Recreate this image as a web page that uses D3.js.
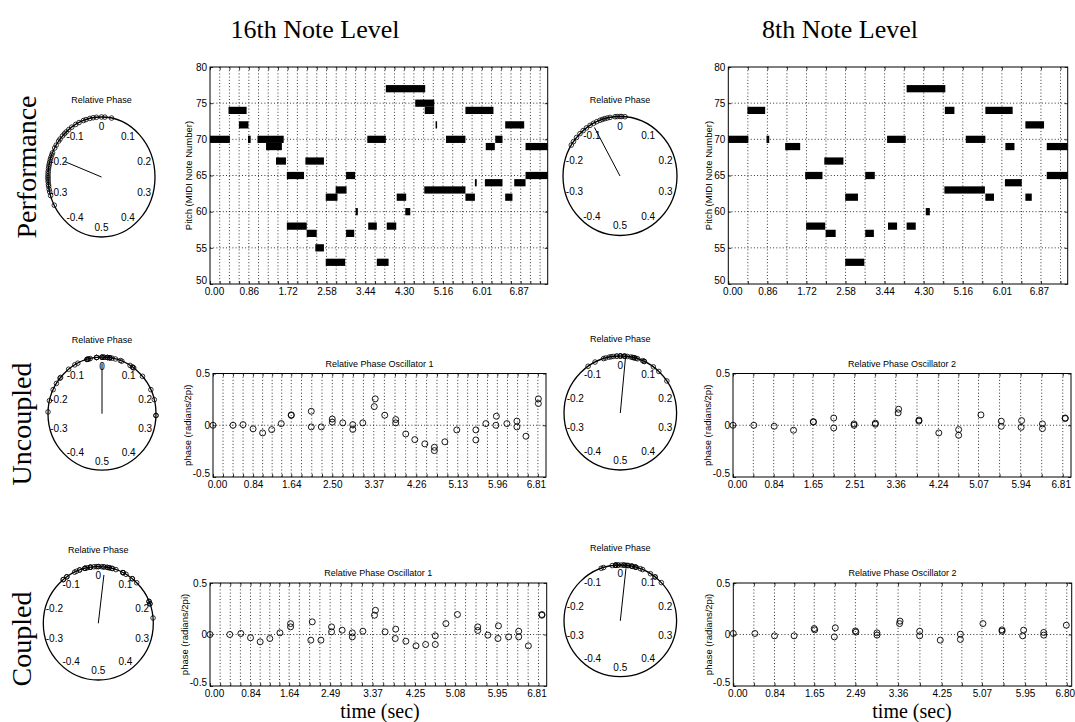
<!DOCTYPE html>
<html>
<head>
<meta charset="utf-8">
<script src="https://cdn.jsdelivr.net/npm/d3@7"></script>
<style>
body { margin: 0; background: #fff; }
</style>
</head>
<body>
<script>
// piano roll notes: [pitch, start (s), end (s)]
var notes16 = [
  [70,0,0.44],[74,0.41,0.81],[72,0.64,0.85],[70,0.84,0.90],[70,1.05,1.63],[69,1.24,1.59],
  [67,1.46,1.68],[65,1.70,2.08],[58,1.70,2.14],[57,2.14,2.36],[67,2.11,2.52],[55,2.33,2.52],
  [62,2.56,2.82],[63,2.78,3.02],[53,2.56,2.99],[65,3.01,3.21],[57,3.01,3.19],[60,3.22,3.27],
  [70,3.48,3.89],[58,3.50,3.69],[53,3.69,3.95],[58,3.91,4.12],[77,3.89,4.76],[62,4.13,4.34],
  [60,4.32,4.43],[75,4.54,4.96],[74,4.75,4.96],[72,4.99,5.02],[63,4.74,5.65],[70,5.22,5.65],
  [62,5.65,5.86],[74,5.65,6.27],[64,5.86,5.90],[64,6.08,6.47],[69,6.10,6.30],[70,6.31,6.47],
  [62,6.53,6.69],[72,6.53,6.95],[64,6.73,6.98],[69,6.98,7.47],[65,6.98,7.47]
];
var notes8 = [
  [70,0,0.44],[74,0.42,0.81],[70,0.84,0.90],[69,1.25,1.58],[65,1.69,2.07],[58,1.71,2.13],
  [67,2.11,2.53],[57,2.14,2.36],[62,2.57,2.85],[53,2.57,2.99],[65,3.01,3.22],[57,3.01,3.20],
  [70,3.49,3.90],[58,3.51,3.71],[58,3.92,4.12],[77,3.92,4.77],[60,4.34,4.43],[74,4.76,4.97],
  [63,4.75,5.64],[70,5.22,5.65],[62,5.65,5.84],[74,5.65,6.25],[69,6.09,6.29],[64,6.08,6.45],
  [62,6.53,6.67],[72,6.53,6.94],[69,7.00,7.46],[65,7.00,7.46]
];
var beatDur = 0.859;
var pianoTickLabels = ["0.00","0.86","1.72","2.58","3.44","4.30","5.16","6.01","6.87"];
var pitchTicks = [50,55,60,65,70,75,80];

// relative phase per oscillator: [time (s), phase (radians/2pi)]
var uncOsc1 = [
  [0,0],[0.42,0],[0.63,0.006],[0.84,-0.035],[1.04,-0.074],[1.23,-0.042],[1.43,0.016],
  [1.64,0.10],[1.64,0.095],[2.06,0.135],[2.06,-0.016],[2.27,-0.016],[2.50,0.06],[2.50,0.03],
  [2.72,0.023],[2.93,0.006],[2.93,-0.04],[3.14,0.023],[3.40,0.255],[3.38,0.18],[3.60,0.097],
  [3.83,0.055],[3.83,0.023],[4.04,-0.084],[4.23,-0.139],[4.44,-0.18],[4.64,-0.213],[4.64,-0.245],
  [4.86,-0.16],[5.11,-0.045],[5.51,-0.045],[5.51,-0.142],[5.72,0.016],[5.93,0],[5.94,0.087],
  [6.16,0.016],[6.37,0.04],[6.37,-0.016],[6.56,-0.106],[6.82,0.255],[6.82,0.21]
];
var uncOsc2 = [
  [0,0],[0.43,0],[0.85,-0.01],[1.25,-0.048],[1.66,0.035],[1.66,0.03],[2.08,0.07],[2.08,-0.026],
  [2.50,0.013],[2.50,0],[2.94,0.02],[2.94,0.01],[3.42,0.155],[3.41,0.12],[3.84,0.05],[3.84,0.04],
  [4.25,-0.074],[4.66,-0.042],[4.66,-0.097],[5.12,0.10],[5.54,0.039],[5.54,-0.01],[5.96,0.045],
  [5.95,-0.02],[6.39,0.013],[6.39,-0.032],[6.86,0.07],[6.86,0.065]
];
var cplOsc1 = [
  [0,0],[0.41,0],[0.64,0.01],[0.84,-0.032],[1.04,-0.071],[1.24,-0.039],[1.45,0.016],
  [1.67,0.106],[1.67,0.074],[2.09,-0.055],[2.12,0.123],[2.30,-0.055],[2.52,0.074],[2.52,0.026],
  [2.74,0.042],[2.95,0.016],[2.95,-0.023],[3.17,0.032],[3.43,0.235],[3.41,0.187],[3.63,0.026],
  [3.85,0.052],[3.84,-0.039],[4.06,-0.065],[4.27,-0.11],[4.47,-0.097],[4.67,-0.013],[4.67,-0.097],
  [4.89,0.106],[5.13,0.194],[5.55,0.074],[5.55,0.039],[5.76,-0.006],[5.98,0.084],[5.97,-0.039],
  [6.19,-0.023],[6.40,0.032],[6.40,-0.023],[6.60,-0.11],[6.88,0.187],[6.88,0.194]
];
var cplOsc2 = [
  [0,0.01],[0.44,0.01],[0.84,-0.013],[1.24,-0.013],[1.65,0.058],[1.66,0.045],[2.06,-0.023],
  [2.08,0.065],[2.49,0.035],[2.50,0.023],[2.93,0.016],[2.93,-0.006],[3.40,0.13],[3.39,0.106],
  [3.80,0.032],[3.80,-0.013],[4.22,-0.055],[4.63,0.003],[4.63,-0.048],[5.09,0.106],[5.48,0.045],
  [5.48,0.032],[5.92,0.042],[5.90,-0.013],[6.33,0.02],[6.33,-0.006],[6.79,0.09]
];
var uncTicks1 = [0.00,0.84,1.64,2.50,3.37,4.26,5.13,5.96,6.81];
var uncTicks2 = [0.00,0.84,1.65,2.51,3.36,4.24,5.07,5.94,6.81];
var cplTicks1 = [0.00,0.84,1.64,2.49,3.37,4.25,5.08,5.95,6.81];
var cplTicks2 = [0.00,0.84,1.65,2.49,3.36,4.25,5.07,5.95,6.80];

// performance relative phase (radians/2pi)
var perfPhase16 = [0.03,0.01,0.0,-0.015,-0.025,-0.035,-0.047,-0.055,-0.069,-0.08,-0.094,-0.105,
  -0.115,-0.122,-0.13,-0.141,-0.148,-0.161,-0.17,-0.184,-0.19,-0.197,-0.203,-0.21,-0.216,-0.222,
  -0.228,-0.235,-0.241,-0.247,-0.252,-0.257,-0.263,-0.27,-0.275,-0.283,-0.29,-0.30,-0.328];
var perfPhase8 = [0.014,0.005,0.0,-0.008,-0.014,-0.028,-0.036,-0.043,-0.05,-0.057,-0.067,-0.077,
  -0.088,-0.1,-0.112,-0.124,-0.138,-0.152,-0.163];
// mean vector of each polar plot: [phase, length]
var meanPerf16 = [-0.193, 0.73], meanPerf8 = [-0.08, 0.93];
var meanUnc16 = [0.0, 0.89], meanUnc8 = [0.015, 0.97];
var meanCpl16 = [0.019, 0.86], meanCpl8 = [0.017, 0.945];
var polarLabels = [0,0.1,0.2,0.3,0.4,0.5,-0.4,-0.3,-0.2,-0.1];

var SANS = "Liberation Sans, Arial, Helvetica, sans-serif";
var SERIF = "Liberation Serif, Times New Roman, serif";

var svg = d3.select("body").append("svg")
  .attr("width", 1075)
  .attr("height", 722)
  .style("font-family", SANS);

var dotted = "1,2.2";

function styleAxis(g) {
  g.select(".domain").remove();
  g.selectAll("line").attr("stroke", "#000").attr("stroke-width", 0.8);
  g.attr("font-family", null).attr("font-size", null);
  g.selectAll("text").style("font-family", SANS)
    .style("font-size", "10px").attr("fill", "#000");
}

// nudge the corner labels apart the way the original figure does
function nudgeX(g) {
  var t = g.selectAll("text").filter(function() { return this.textContent !== ""; });
  var n = t.size();
  t.attr("dx", function(d, i) { return i === 0 ? 4 : (i === n - 1 ? -2 : 0); });
}
function nudgeY(g) {
  g.selectAll("text").attr("dy", function(d, i) { return i === 0 ? "-0.05em" : "0.32em"; });
}

function frame(box) {
  svg.append("rect")
    .attr("x", box.x0).attr("y", box.y0)
    .attr("width", box.x1 - box.x0).attr("height", box.y1 - box.y0)
    .attr("fill", "none").attr("stroke", "#000").attr("stroke-width", 1);
}

function ylabel(txt, cx, cy) {
  svg.append("text")
    .attr("transform", "translate(" + cx + "," + cy + ") rotate(-90)")
    .attr("text-anchor", "middle").attr("dy", "0.35em")
    .style("font-size", "9.5px").text(txt);
}

function pianoRoll(box, notes, tEnd, sub) {
  var x = d3.scaleLinear().domain([0, tEnd]).range([box.x0, box.x1]);
  var y = d3.scaleLinear().domain([50, 80]).range([box.y1, box.y0]);
  var step = beatDur / sub;
  var grid = d3.range(0, tEnd, step);

  svg.append("g").selectAll("line").data(grid.slice(1)).enter().append("line")
    .attr("x1", function(d) { return x(d); }).attr("x2", function(d) { return x(d); })
    .attr("y1", box.y0).attr("y2", box.y1)
    .attr("stroke", "#000").attr("stroke-width", 0.8).attr("stroke-dasharray", dotted);
  svg.append("g").selectAll("line").data(pitchTicks.slice(1, -1)).enter().append("line")
    .attr("x1", box.x0).attr("x2", box.x1)
    .attr("y1", function(d) { return y(d); }).attr("y2", function(d) { return y(d); })
    .attr("stroke", "#000").attr("stroke-width", 0.8).attr("stroke-dasharray", dotted);

  svg.append("g").selectAll("rect").data(notes).enter().append("rect")
    .attr("x", function(d) { return x(d[1]); })
    .attr("width", function(d) { return Math.max(1.5, x(d[2]) - x(d[1])); })
    .attr("y", function(d) { return y(d[0] + 0.5); })
    .attr("height", function(d) { return y(d[0] - 0.5) - y(d[0] + 0.5); })
    .attr("fill", "#000");

  var bottom = svg.append("g").attr("transform", "translate(0," + box.y1 + ")")
    .call(d3.axisBottom(x).tickValues(grid).tickSizeInner(-3).tickSizeOuter(0).tickPadding(4)
      .tickFormat(function(d, i) { return i % sub === 0 ? pianoTickLabels[i / sub] : ""; }));
  styleAxis(bottom);
  nudgeX(bottom);
  var top = svg.append("g").attr("transform", "translate(0," + box.y0 + ")")
    .call(d3.axisTop(x).tickValues(grid).tickSizeInner(-3).tickSizeOuter(0).tickFormat(""));
  styleAxis(top);
  var left = svg.append("g").attr("transform", "translate(" + box.x0 + ",0)")
    .call(d3.axisLeft(y).tickValues(pitchTicks).tickSizeInner(-3).tickSizeOuter(0).tickPadding(3)
      .tickFormat(d3.format("d")));
  styleAxis(left);
  nudgeY(left);
  var right = svg.append("g").attr("transform", "translate(" + box.x1 + ",0)")
    .call(d3.axisRight(y).tickValues(pitchTicks).tickSizeInner(-3).tickSizeOuter(0).tickFormat(""));
  styleAxis(right);
  frame(box);
}

function phasePlot(box, pts, ticks, sub, tEnd, title) {
  var x = d3.scaleLinear().domain([0, tEnd]).range([box.x0, box.x1]);
  var y = d3.scaleLinear().domain([-0.5, 0.5]).range([box.y1, box.y0]);
  var grid = [];
  for (var i = 0; i < ticks.length - 1; i++) {
    for (var j = 0; j < sub; j++) grid.push(ticks[i] + (ticks[i + 1] - ticks[i]) * j / sub);
  }
  grid.push(ticks[ticks.length - 1]);

  svg.append("g").selectAll("line").data(grid.slice(1)).enter().append("line")
    .attr("x1", function(d) { return x(d); }).attr("x2", function(d) { return x(d); })
    .attr("y1", box.y0).attr("y2", box.y1)
    .attr("stroke", "#000").attr("stroke-width", 0.8).attr("stroke-dasharray", dotted);
  svg.append("line")
    .attr("x1", box.x0).attr("x2", box.x1).attr("y1", y(0)).attr("y2", y(0))
    .attr("stroke", "#000").attr("stroke-width", 0.8).attr("stroke-dasharray", dotted);

  svg.append("g").selectAll("circle").data(pts).enter().append("circle")
    .attr("cx", function(d) { return x(d[0]); })
    .attr("cy", function(d) { return y(d[1]); })
    .attr("r", 3).attr("fill", "none").attr("stroke", "#000").attr("stroke-width", 0.9);

  var bottom = svg.append("g").attr("transform", "translate(0," + box.y1 + ")")
    .call(d3.axisBottom(x).tickValues(grid).tickSizeInner(-3).tickSizeOuter(0).tickPadding(4)
      .tickFormat(function(d, i) { return i % sub === 0 ? d.toFixed(2) : ""; }));
  styleAxis(bottom);
  nudgeX(bottom);
  var top = svg.append("g").attr("transform", "translate(0," + box.y0 + ")")
    .call(d3.axisTop(x).tickValues(grid).tickSizeInner(-3).tickSizeOuter(0).tickFormat(""));
  styleAxis(top);
  var left = svg.append("g").attr("transform", "translate(" + box.x0 + ",0)")
    .call(d3.axisLeft(y).tickValues([-0.5, 0, 0.5]).tickSizeInner(-3).tickSizeOuter(0).tickPadding(3)
      .tickFormat(function(d) { return String(d); }));
  styleAxis(left);
  nudgeY(left);
  var right = svg.append("g").attr("transform", "translate(" + box.x1 + ",0)")
    .call(d3.axisRight(y).tickValues([-0.5, 0, 0.5]).tickSizeInner(-3).tickSizeOuter(0).tickFormat(""));
  styleAxis(right);
  frame(box);

  if (title) {
    svg.append("text").attr("x", (box.x0 + box.x1) / 2).attr("y", box.y0 - 7)
      .attr("text-anchor", "middle").style("font-size", "9px").text(title);
  }
  ylabel("phase (radians/2pi)", box.x0 - 25, (box.y0 + box.y1) / 2);
}

function polar(c, phases, mean) {
  var sx = d3.scaleLinear().domain([-1, 1]).range([c.cx - c.rx, c.cx + c.rx]);
  var sy = d3.scaleLinear().domain([-1, 1]).range([c.cy + c.ry, c.cy - c.ry]);
  var ang = function(p) { return 2 * Math.PI * p; };

  svg.append("ellipse").attr("cx", sx(0)).attr("cy", sy(0))
    .attr("rx", sx(1) - sx(0)).attr("ry", sy(-1) - sy(0))
    .attr("fill", "none").attr("stroke", "#000").attr("stroke-width", 1.3);

  svg.append("g").selectAll("text").data(polarLabels).enter().append("text")
    .attr("x", function(d) { return sx(0.84 * Math.sin(ang(d))); })
    .attr("y", function(d) { return sy(0.84 * Math.cos(ang(d))); })
    .attr("dy", "0.35em").attr("text-anchor", "middle").style("font-size", "10px")
    .text(function(d) { return String(d); });

  svg.append("line")
    .attr("x1", sx(0)).attr("y1", sy(0))
    .attr("x2", sx(mean[1] * Math.sin(ang(mean[0]))))
    .attr("y2", sy(mean[1] * Math.cos(ang(mean[0]))))
    .attr("stroke", "#000").attr("stroke-width", 1);

  svg.append("g").selectAll("circle").data(phases).enter().append("circle")
    .attr("cx", function(d) { return sx(Math.sin(ang(d))); })
    .attr("cy", function(d) { return sy(Math.cos(ang(d))); })
    .attr("r", 2.3).attr("fill", "none").attr("stroke", "#000").attr("stroke-width", 0.8);

  svg.append("text").attr("x", c.cx).attr("y", c.cy - c.ry - 14)
    .attr("text-anchor", "middle").style("font-size", "9px").text("Relative Phase");
}

// headers
svg.append("text").attr("x", 315).attr("y", 38).attr("text-anchor", "middle")
  .style("font-family", SERIF).style("font-size", "26px")
  .text("16th Note Level");
svg.append("text").attr("x", 840).attr("y", 38).attr("text-anchor", "middle")
  .style("font-family", SERIF).style("font-size", "26px")
  .text("8th Note Level");

var rows = [["Performance", 36, 167], ["Uncoupled", 31, 424], ["Coupled", 31, 639]];
rows.forEach(function(r) {
  svg.append("text")
    .attr("transform", "translate(" + r[1] + "," + r[2] + ") rotate(-90)")
    .attr("text-anchor", "middle")
    .style("font-family", SERIF).style("font-size", "28px")
    .text(r[0]);
});

// row 1: performance
polar({cx: 101.5, cy: 177, rx: 53.5, ry: 60}, perfPhase16, meanPerf16);
pianoRoll({x0: 210, x1: 547.7, y0: 67, y1: 284}, notes16, 7.47, 4);
ylabel("Pitch (MIDI Note Number)", 189, 175.5);
polar({cx: 620, cy: 176, rx: 57, ry: 59.5}, perfPhase8, meanPerf8);
pianoRoll({x0: 728.3, x1: 1067.7, y0: 67, y1: 284}, notes8, 7.46, 2);
ylabel("Pitch (MIDI Note Number)", 709, 175.5);

// row 2: uncoupled
polar({cx: 102, cy: 413.7, rx: 54, ry: 56.5}, uncOsc1.map(function(d) { return d[1]; }), meanUnc16);
phasePlot({x0: 213, x1: 546, y0: 373.5, y1: 477}, uncOsc1, uncTicks1, 4, 6.98, "Relative Phase Oscillator 1");
polar({cx: 620.3, cy: 413, rx: 56.3, ry: 57}, uncOsc2.map(function(d) { return d[1]; }), meanUnc8);
phasePlot({x0: 733, x1: 1071, y0: 373.5, y1: 477}, uncOsc2, uncTicks2, 2, 6.98, "Relative Phase Oscillator 2");

// row 3: coupled
polar({cx: 98.3, cy: 623.3, rx: 55, ry: 56.7}, cplOsc1.map(function(d) { return d[1]; }), meanCpl16);
phasePlot({x0: 210, x1: 546.7, y0: 583, y1: 686}, cplOsc1, cplTicks1, 4, 6.98, "Relative Phase Oscillator 1");
polar({cx: 620.3, cy: 620.8, rx: 56.3, ry: 55.8}, cplOsc2.map(function(d) { return d[1]; }), meanCpl8);
phasePlot({x0: 733.3, x1: 1071.7, y0: 583, y1: 686}, cplOsc2, cplTicks2, 2, 6.90, "Relative Phase Oscillator 2");

svg.append("text").attr("x", 380).attr("y", 718).attr("text-anchor", "middle")
  .style("font-family", SERIF).style("font-size", "20px")
  .text("time (sec)");
svg.append("text").attr("x", 912).attr("y", 718).attr("text-anchor", "middle")
  .style("font-family", SERIF).style("font-size", "20px")
  .text("time (sec)");
</script>
</body>
</html>
